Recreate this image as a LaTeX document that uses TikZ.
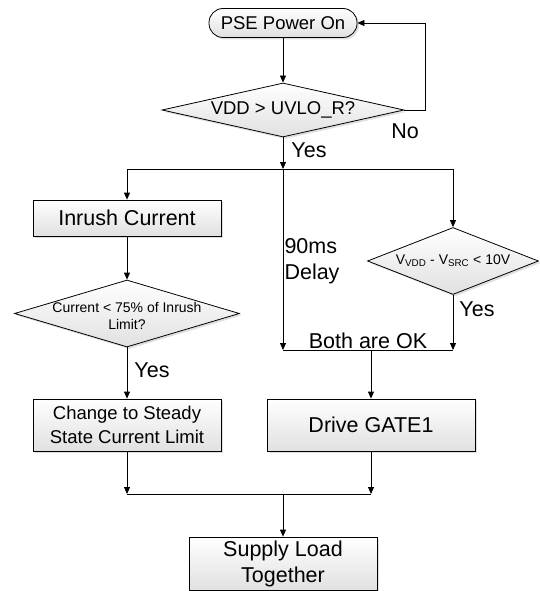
\documentclass[tikz,border=0pt]{standalone}
\usepackage{fontspec}
\setmainfont{Liberation Sans}
\usetikzlibrary{shapes.geometric,shadows,arrows.meta}

\begin{document}
\begin{tikzpicture}[x=1pt,y=-1pt,
  box/.style={draw,line width=0.8pt,top color=white,bottom color=black!12,
    drop shadow={shadow xshift=2pt,shadow yshift=-2pt,opacity=0.25},inner sep=0pt,align=center},
  decision/.style={box,diamond},
  flow/.style={line width=0.8pt,-{Triangle[length=7pt,width=6pt]}},
  line/.style={line width=0.8pt},
  big/.style={font=\fontsize{21.5}{26}\selectfont},
  mid/.style={font=\fontsize{18.5}{24}\selectfont},
  small/.style={font=\fontsize{14}{17}\selectfont}]
 \useasboundingbox (0,0) rectangle (539,591);
 % start and undervoltage check
 \node[box,mid,rounded corners=14pt,minimum width=148pt,minimum height=29pt] (pse) at (283,23) {PSE Power On};
 \node[decision,minimum width=242pt,minimum height=54pt] (uvlo) at (283,110) {};
 \node[mid] (uvlotxt) at (uvlo) {VDD > UVLO\_R?};
 \node[big] (nolbl) at (405,131) {No};
 \node[big] (yestop) at (309,150) {Yes};
 \coordinate (split) at (283,169);
 % left branch
 \node[box,big,minimum width=188pt,minimum height=36pt] (inrush) at (127,218) {Inrush Current};
 \node[decision,minimum width=225pt,minimum height=67pt] (curq) at (127,313.5) {};
 \node[small,align=center] (curqtxt) at (127,316) {Current < 75\% of Inrush\\Limit?};
 \node[big] (yesleft) at (152,370) {Yes};
 \node[box,mid,minimum width=188pt,minimum height=52pt] (change) at (127,425) {Change to Steady\\State Current Limit};
 % right branch
 \node[decision,minimum width=171pt,minimum height=67pt] (vsrc) at (453,261) {};
 \node[small] (vsrctxt) at (vsrc) {V\textsubscript{VDD} - V\textsubscript{SRC} < 10V};
 \node[big] (yesright) at (477,309) {Yes};
 \node[big,align=left,anchor=west] (delay) at (281,261) {90ms\\Delay};
 \coordinate (merge) at (283,350);
 \node[big] (bothok) at (368,341) {Both are OK};
 \node[box,big,minimum width=208pt,minimum height=52pt] (drive) at (371,425) {Drive GATE1};
 % end
 \coordinate (join) at (283,494);
 \node[box,big,minimum width=188pt,minimum height=53pt] (supply) at (283,563.5) {Supply Load\\Together};
 % connectors
 \draw[flow] (pse) -- (uvlo);
 \draw[flow] (uvlo.east) -- ++(21,0) |- (pse.east);
 \draw[flow] (uvlo.south) -- (split);
 \draw[line] (split -| inrush) -- (split -| vsrc);
 \draw[flow] (split -| inrush) -- (inrush);
 \draw[flow] (split -| vsrc) -- (vsrc);
 \draw[flow] (split) -- (merge);
 \draw[flow] (vsrc) -- (vsrc |- merge);
 \draw[line] (merge) -- (vsrc |- merge);
 \draw[flow] (drive |- merge) -- (drive);
 \draw[flow] (inrush) -- (curq);
 \draw[flow] (curq) -- (change);
 \draw[flow] (change) -- (change |- join);
 \draw[flow] (drive) -- (drive |- join);
 \draw[line] (change |- join) -- (drive |- join);
 \draw[flow] (join) -- (supply);
\end{tikzpicture}
\end{document}
